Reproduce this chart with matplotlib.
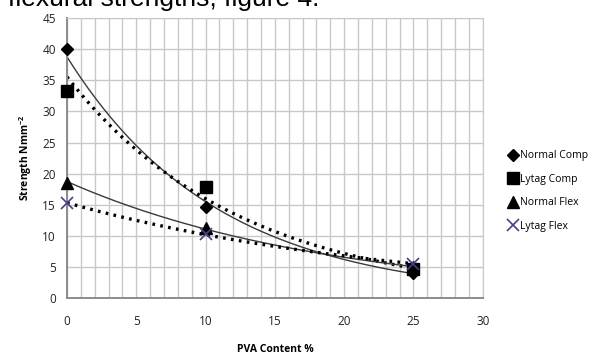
import numpy as np
import matplotlib
matplotlib.use("Agg")
import matplotlib.pyplot as plt

# PVA content (%) and measured strengths (N/mm^2)
pva = [0, 10, 25]
normal_comp = [40.0, 14.7, 4.0]
lytag_comp = [33.3, 17.8, 4.6]
normal_flex = [18.5, 11.3, 5.0]
lytag_flex = [15.2, 10.3, 5.5]

series_names = ["Normal Comp", "Lytag Comp", "Normal Flex", "Lytag Flex"]


# exponential trendline, like the one Excel draws
def exp_trend(x, y, xs):
    b, ln_a = np.polyfit(x, np.log(y), 1)
    return np.exp(ln_a) * np.exp(b * xs)


plt.rcParams['font.family'] = ['Open Sans', 'DejaVu Sans']

fig = plt.figure(figsize=(6.06, 3.54), dpi=100)
ax = fig.add_axes([0.1106, 0.158, 0.686, 0.791])

xs = np.linspace(0, 25, 200)
ax.plot(xs, exp_trend(pva, normal_comp, xs), color="#3a3a3a", lw=1.0)
ax.plot(xs, exp_trend(pva, lytag_comp, xs), color="black", lw=2.4,
        linestyle=(0, (0.8, 1.6)))
ax.plot(xs, exp_trend(pva, normal_flex, xs), color="#3a3a3a", lw=1.0)
ax.plot(xs, exp_trend(pva, lytag_flex, xs), color="black", lw=2.4,
        linestyle=(0, (0.8, 1.6)))

h1, = ax.plot(pva, normal_comp, "D", color="black", ms=6.5, ls="none",
              clip_on=False, zorder=5)
h2, = ax.plot(pva, lytag_comp, "s", color="black", ms=8, ls="none",
              clip_on=False, zorder=5)
h3, = ax.plot(pva, normal_flex, "^", color="black", ms=8.5, ls="none",
              clip_on=False, zorder=5)
h4, = ax.plot(pva, lytag_flex, "x", color="#4a3f86", ms=8, mew=1.2,
              ls="none", clip_on=False, zorder=5)

ax.set_xlim(0, 30)
ax.set_ylim(0, 45)
ax.set_xticks(np.arange(0, 31, 5))
ax.set_xticks(np.arange(0, 31, 1), minor=True)
ax.set_yticks(np.arange(0, 46, 5))
ax.grid(True, which="both", color="#c8c8c8", lw=1.0)
ax.set_axisbelow(True)
for s in ax.spines.values():
    s.set_color("#c8c8c8")
ax.spines["left"].set_color("#8c8c8c")
ax.spines["left"].set_linewidth(1.4)
ax.spines["bottom"].set_color("#8c8c8c")
ax.spines["bottom"].set_linewidth(1.4)
ax.tick_params(which="both", length=0, labelsize=8.5, colors="#222222")
ax.tick_params(axis="x", pad=12)
ax.tick_params(axis="y", pad=8)

ax.set_xlabel("PVA Content %", fontsize=7.5, fontweight="bold", labelpad=12)
ax.set_ylabel("Strength Nmm$^{\\mathregular{-2}}$", fontsize=7.5,
              fontweight="bold", labelpad=6)

fig.legend([h1, h2, h3, h4], series_names, loc="center left",
           bbox_to_anchor=(0.83, 0.46), frameon=False, fontsize=7.5,
           handletextpad=0.0, handlelength=1.2, labelspacing=1.2,
           borderaxespad=0)

# caption line above the chart, clipped at the top edge as in the source
fig.text(0.013, 0.983, "flexural strengths, figure 4.", fontsize=19,
         family="Liberation Sans", va="baseline", ha="left")

fig.savefig("out.png", dpi=100)
